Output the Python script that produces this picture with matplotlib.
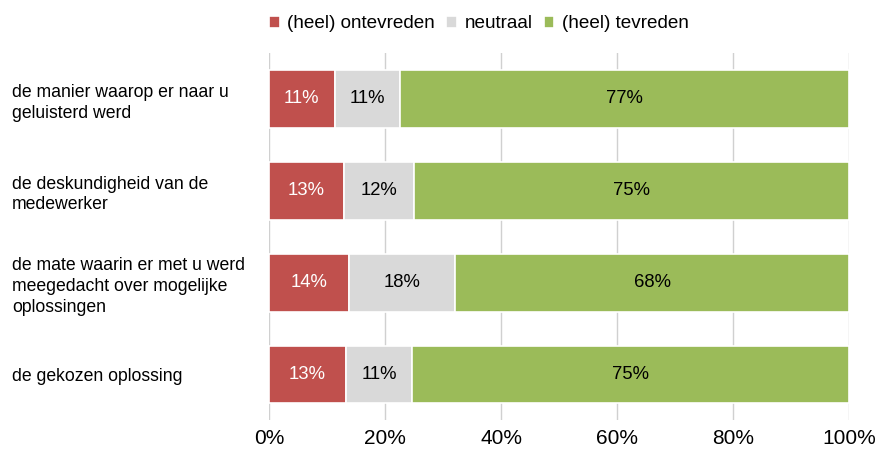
import matplotlib

matplotlib.use("Agg")
import matplotlib.pyplot as plt
import numpy as np

plt.rcParams["font.family"] = ["Liberation Sans", "DejaVu Sans"]

categories = [
    "de manier waarop er naar u\ngeluisterd werd",
    "de deskundigheid van de\nmedewerker",
    "de mate waarin er met u werd\nmeegedacht over mogelijke\noplossingen",
    "de gekozen oplossing",
]
series = ["(heel) ontevreden", "neutraal", "(heel) tevreden"]
ontevreden = [11.3, 12.9, 13.8, 13.3]
neutraal = [11.3, 12.1, 18.3, 11.3]
tevreden = [77.4, 75.0, 67.9, 75.4]
colors = ["#c0504d", "#d9d9d9", "#9bbb59"]
text_colors = ["white", "black", "black"]

fig = plt.figure(figsize=(8.76, 4.5), dpi=100)
ax = fig.add_axes([0.3071, 0.0656, 0.6621, 0.8167])

y = np.arange(len(categories))
left = np.zeros(len(categories))
handles = []
for vals, name, col, tcol in zip([ontevreden, neutraal, tevreden], series, colors, text_colors):
    vals = np.array(vals)
    bars = ax.barh(y, vals, left=left, height=0.63, color=col,
                   edgecolor="white", linewidth=1.2, label=name, zorder=3)
    handles.append(bars)
    for yi, l, v in zip(y, left, vals):
        ax.text(l + v / 2, yi, f"{round(v):d}%", ha="center", va="center",
                color=tcol, fontsize=13.3, zorder=4)
    left += vals

ax.set_xlim(0, 100)
ax.set_ylim(len(categories) - 0.5, -0.5)
ax.set_xticks(np.arange(0, 101, 20))
ax.set_xticklabels([f"{t}%" for t in range(0, 101, 20)], fontsize=15)
ax.tick_params(axis="x", length=0, pad=6)
ax.set_yticks(y)
ax.set_yticklabels(categories, ha="left", fontsize=12.7, linespacing=1.28)
ax.tick_params(axis="y", length=0, pad=257 * 72 / 100)
ax.grid(axis="x", color="#d0d0d0", linewidth=1, zorder=0)
for s in ax.spines.values():
    s.set_visible(False)

fig.legend(handles=handles, loc="center", bbox_to_anchor=(479 / 876, 1 - 24 / 450),
           ncol=3, frameon=False, fontsize=13.6, handlelength=0.55, handleheight=0.55,
           handletextpad=0.4, columnspacing=0.6, borderaxespad=0)

fig.savefig("out.png", dpi=100)
